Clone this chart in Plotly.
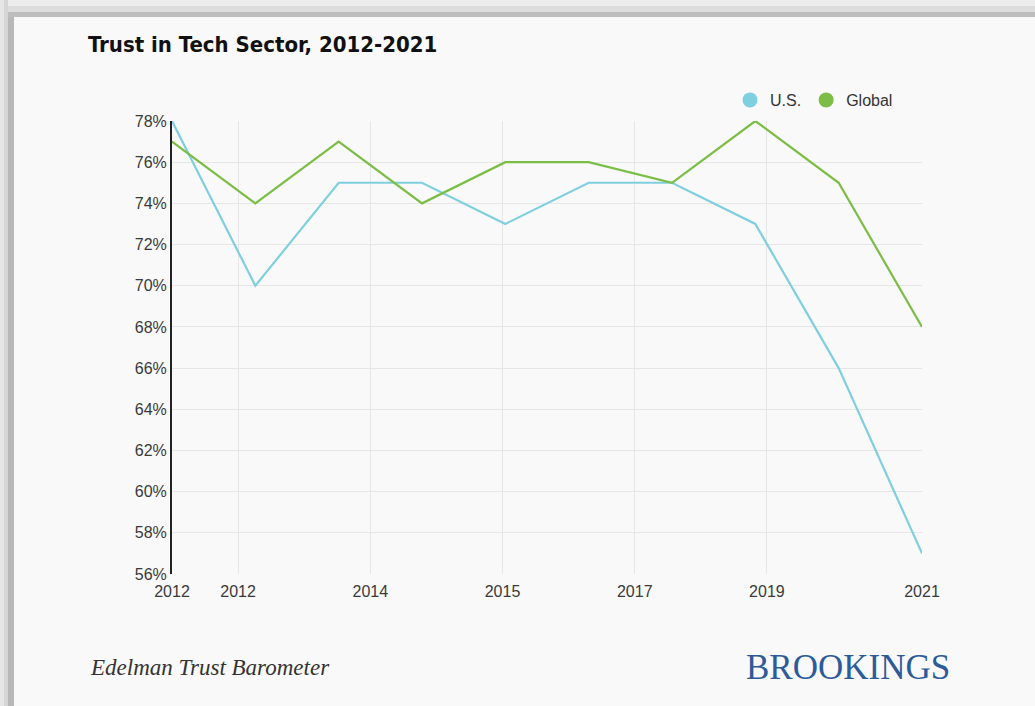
import plotly.graph_objects as go

# ---- data ----
years = [2012, 2013, 2014, 2015, 2016, 2017, 2018, 2019, 2020, 2021]
us_trust = [78, 70, 75, 75, 73, 75, 75, 73, 66, 57]
global_trust = [77, 74, 77, 74, 76, 76, 75, 78, 75, 68]
series_names = ["U.S.", "Global"]
x_tick_positions = [2012, 2012.793, 2014.38, 2015.966, 2017.553, 2019.139, 2021]
x_tick_labels = ["2012", "2012", "2014", "2015", "2017", "2019", "2021"]
y_ticks = [56, 58, 60, 62, 64, 66, 68, 70, 72, 74, 76, 78]
y_tick_labels = [f"{v}%" for v in y_ticks]

US_COLOR = "#80cfe0"
GLOBAL_COLOR = "#7bbd45"

W, H = 1035, 706
L, R, T, B = 172, 113, 121, 132
PW, PH = W - L - R, H - T - B


def px(x):
    return (x - L) / PW


def py(y):
    return (H - B - y) / PH


fig = go.Figure()
fig.add_trace(go.Scatter(x=years, y=us_trust, mode="lines", name=series_names[0],
                         line=dict(color=US_COLOR, width=2.2), showlegend=False))
fig.add_trace(go.Scatter(x=years, y=global_trust, mode="lines", name=series_names[1],
                         line=dict(color=GLOBAL_COLOR, width=2.2), showlegend=False))
# legend entries (circle swatches)
for name, col in zip(series_names, [US_COLOR, GLOBAL_COLOR]):
    fig.add_trace(go.Scatter(x=[None], y=[None], mode="markers", name=name,
                             marker=dict(color=col, size=15, symbol="circle")))

shapes = []
# page frame (grey bevel on top and left)
for x0, x1, c in [(0, 4, "#e6e6e6"), (4, 8, "#d6d6d6"), (8, 14, "#b8b8b8")]:
    shapes.append(dict(type="rect", xref="paper", yref="paper", x0=px(x0), x1=px(x1),
                       y0=py(H), y1=py(0), fillcolor=c, line=dict(width=0), layer="below"))
for y0, y1, c in [(0, 6, "#ececec"), (6, 12, "#dddddd"), (12, 17, "#bdbdbd")]:
    shapes.append(dict(type="rect", xref="paper", yref="paper", x0=px(8), x1=px(W),
                       y0=py(y1), y1=py(y0), fillcolor=c, line=dict(width=0), layer="below"))

annotations = [
    dict(text="<i>Edelman Trust Barometer</i>", xref="paper", yref="paper",
         x=px(88), y=py(667), xanchor="left", yanchor="middle", showarrow=False,
         font=dict(family="Liberation Serif, serif", size=23, color="#333333")),
    dict(text="BROOKINGS", xref="paper", yref="paper",
         x=px(952), y=py(667), xanchor="right", yanchor="middle", showarrow=False,
         font=dict(family="Liberation Serif, serif", size=35, color="#2d5b9a")),
]

fig.update_layout(
    width=W, height=H,
    margin=dict(l=L, r=R, t=T, b=B, pad=0),
    paper_bgcolor="#f9f9f9", plot_bgcolor="#f9f9f9",
    template="none",
    title=dict(text="<b>Trust in Tech Sector, 2012-2021</b>", x=88 / W, xanchor="left",
               y=1 - 44 / H, yanchor="middle",
               font=dict(family="DejaVu Sans Condensed, Roboto, sans-serif",
                         size=22, color="#111111")),
    legend=dict(orientation="h", x=px(730), y=py(100), xanchor="left", yanchor="middle",
                font=dict(family="Liberation Sans, Arial, sans-serif", size=16, color="#333333"),
                bgcolor="rgba(0,0,0,0)", itemwidth=30, tracegroupgap=0),
    shapes=shapes,
    annotations=annotations,
    showlegend=True,
    hovermode=False,
)
fig.update_xaxes(range=[2012, 2021], tickmode="array", tickvals=x_tick_positions,
                 ticktext=x_tick_labels, showgrid=True, gridcolor="#e6e6e6", gridwidth=1,
                 showline=False, zeroline=False, ticks="", ticklabelstandoff=6,
                 tickfont=dict(family="Liberation Sans, Arial, sans-serif", size=16, color="#3a3a3a"))
fig.update_yaxes(range=[56, 78], tickmode="array", tickvals=y_ticks, ticktext=y_tick_labels,
                 showgrid=True, gridcolor="#e6e6e6", gridwidth=1,
                 showline=True, linecolor="#222222", linewidth=2, zeroline=False, ticks="",
                 tickfont=dict(family="Liberation Sans, Arial, sans-serif", size=16, color="#3a3a3a"))

fig.write_html("out.html", config={"displayModeBar": False},
               post_script="document.body.style.margin='0';document.body.style.background='#f9f9f9';")
